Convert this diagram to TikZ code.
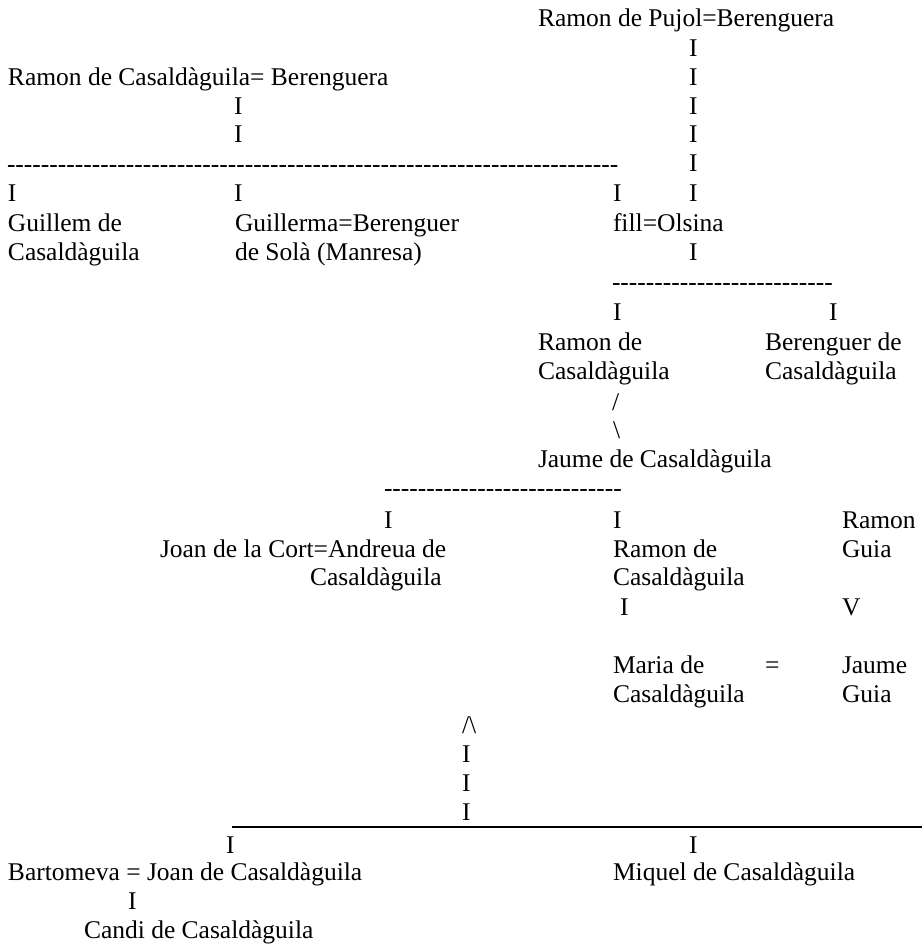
\documentclass[tikz,border=0pt]{standalone}
\usepackage{fontspec}
\setmainfont{Liberation Serif}[Ligatures=TeXOff]
\usepackage{tikz}

\begin{document}
\begin{tikzpicture}[x=1pt,y=-1pt,
    font=\fontsize{25.5}{30}\selectfont,
    person/.style={anchor=base west,inner sep=0pt,outer sep=0pt,text=black},
    link/.style={anchor=base west,inner sep=0pt,outer sep=0pt,text=black}]
    \useasboundingbox (0,0) rectangle (922,946);
    % Pujol branch
        \node[person] (pujol) at (538,26) {Ramon de Pujol=Berenguera};
        \node[link] (p1) at (689,56) {I};
        \node[link] (p2) at (689,85) {I};
        \node[link] (p3) at (689,114) {I};
        \node[link] (p4) at (689,142) {I};
        \node[link] (p5) at (689,171) {I};
        \node[link] (p6) at (689,201) {I};
    % Casaldaguila branch
        \node[person] (rc) at (8,85) {Ramon de Casaldàguila= Berenguera};
        \node[link] (c1) at (234,114) {I};
        \node[link] (c2) at (234,142) {I};
        \node[link] (dash1) at (7,172)
            {------------------------------------------------------------------------};
        \node[link] (c3) at (8,201) {I};
        \node[link] (c4) at (234,201) {I};
        \node[link] (c5) at (613,201) {I};
        \node[person] (guillem) at (8,231) {Guillem de};
        \node[person] (guillemb) at (8,260) {Casaldàguila};
        \node[person] (guillerma) at (235,231) {Guillerma=Berenguer};
        \node[person] (guillermab) at (235,260) {de Solà (Manresa)};
        \node[person] (fill) at (613,231) {fill=Olsina};
        \node[link] (p7) at (689,260) {I};
    % children of fill
        \node[link] (dash2) at (612,290) {--------------------------};
        \node[link] (f1) at (613,320) {I};
        \node[link] (f2) at (829,320) {I};
        \node[person] (ramon) at (538,350) {Ramon de};
        \node[person] (ramonb) at (538,379) {Casaldàguila};
        \node[person] (bere) at (765,350) {Berenguer de};
        \node[person] (bereb) at (765,379) {Casaldàguila};
        \node[link] (s1) at (612,410) {/};
        \node[link] (s2) at (613,438) {\textbackslash};
        \node[person] (jaume) at (538,467) {Jaume de Casaldàguila};
    % children of Jaume
        \node[link] (dash3) at (384,496) {----------------------------};
        \node[link] (j1) at (384,528) {I};
        \node[link] (j2) at (613,528) {I};
        \node[person] (rguia) at (842,528) {Ramon};
        \node[person] (rguiab) at (842,557) {Guia};
        \node[person] (joan) at (160,557) {Joan de la Cort=Andreua de};
        \node[person] (joanb) at (310,585) {Casaldàguila};
        \node[person] (ramon2) at (613,557) {Ramon de};
        \node[person] (ramon2b) at (613,585) {Casaldàguila};
        \node[link] (j3) at (620,615) {I};
        \node[link] (g1) at (842,615) {V};
        \node[person] (maria) at (613,673) {Maria de};
        \node[person] (mariab) at (613,702) {Casaldàguila};
        \node[link] (eq) at (765,673) {=};
        \node[person] (jguia) at (842,673) {Jaume};
        \node[person] (jguiab) at (842,702) {Guia};
    % joined line
        \node[link] (up) at (462,733) {/\textbackslash};
        \node[link] (u1) at (462,762) {I};
        \node[link] (u2) at (462,791) {I};
        \node[link] (u3) at (462,820) {I};
        \coordinate (lineL) at (232,827);
        \coordinate (lineR) at (922,827);
        \draw[line width=1.6pt,draw=black] (lineL) -- (lineR);
        \node[link] (b1) at (226,853) {I};
        \node[link] (b2) at (689,853) {I};
        \node[person] (bart) at (8,880) {Bartomeva = Joan de Casaldàguila};
        \node[person] (miquel) at (613,880) {Miquel de Casaldàguila};
        \node[link] (b3) at (128,909) {I};
        \node[person] (candi) at (84,938) {Candi de Casaldàguila};
\end{tikzpicture}
\end{document}
